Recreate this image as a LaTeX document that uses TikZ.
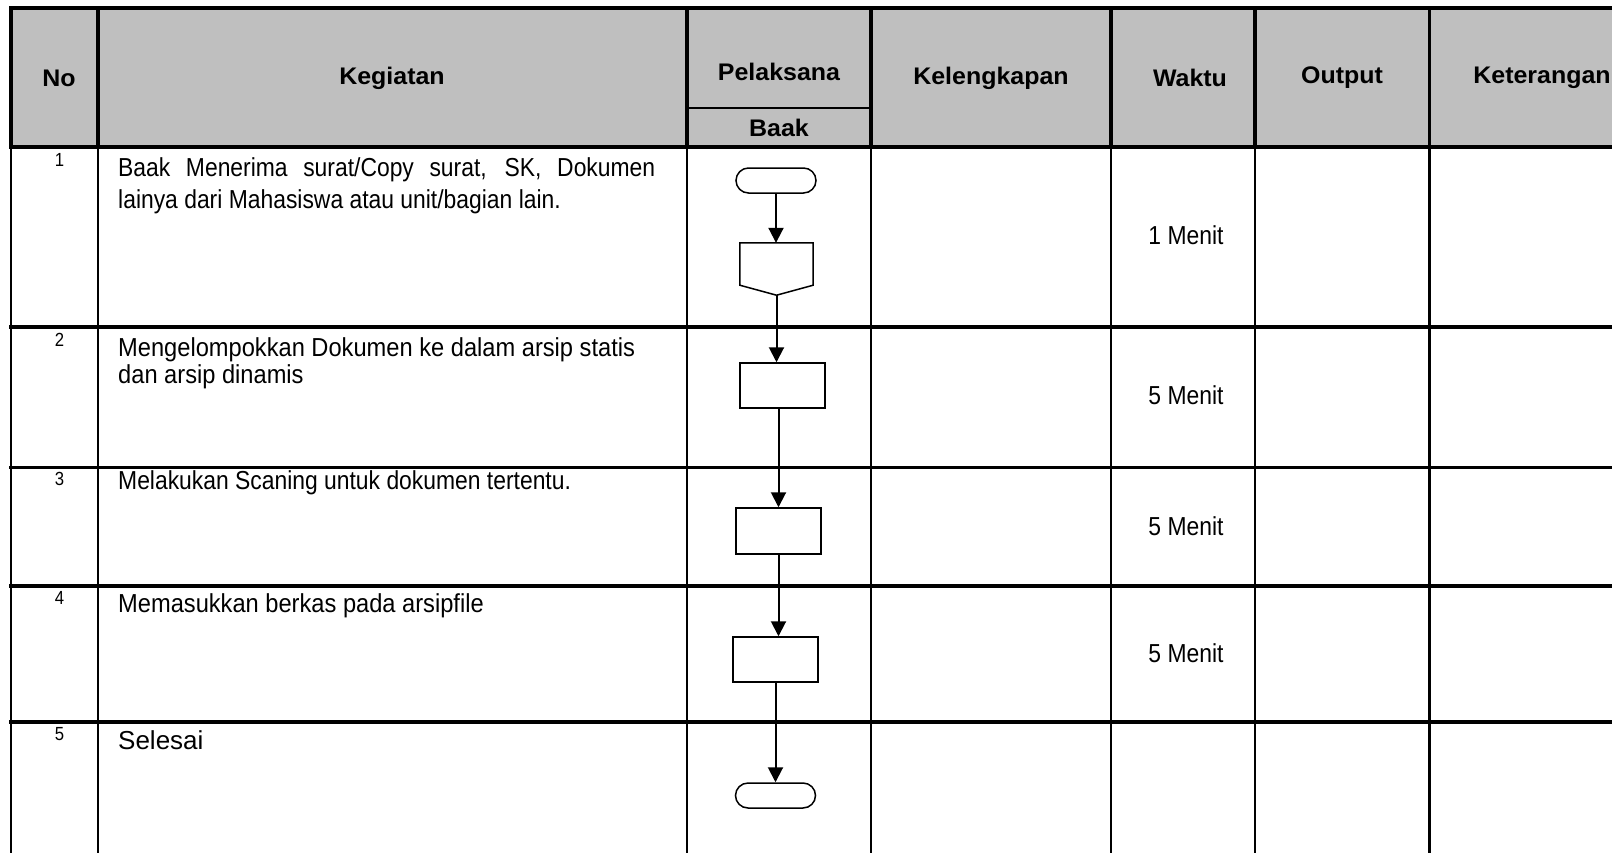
\documentclass[tikz,border=0pt]{standalone}
\usepackage{fontspec}
\setmainfont{Liberation Sans}
\newfontfamily\bodyf[FakeStretch=0.88]{Liberation Sans}
\newfontfamily\bodyw[FakeStretch=0.91]{Liberation Sans}
\newfontfamily\headf[FakeStretch=1.04]{Liberation Sans}
\usetikzlibrary{arrows.meta,shapes.misc}
\definecolor{headgray}{RGB}{191,191,191}
\tikzset{
  thickln/.style={line width=3.8pt},
  thinln/.style={line width=2.2pt},
  headtxt/.style={font=\headf\bfseries\fontsize{24}{28}\selectfont, inner sep=0pt},
  bodytxt/.style={font=\bodyf\fontsize{26}{32}\selectfont, inner sep=0pt, anchor=base west},
  bodywide/.style={bodytxt, font=\bodyw\fontsize{26}{32}\selectfont},
  numtxt/.style={font=\bodyf\fontsize{19}{22}\selectfont, inner sep=0pt, anchor=base},
  timetxt/.style={font=\bodyf\fontsize{26}{32}\selectfont, inner sep=0pt},
  term/.style={draw, rounded rectangle, minimum width=80pt, minimum height=25pt, line width=1.5pt, inner sep=0pt},
  procbox/.style={draw, rectangle, minimum width=85pt, minimum height=45pt, line width=1.5pt, inner sep=0pt},
  flowarrow/.style={line width=2pt, -{Triangle[width=15pt,length=15pt]}},
}
\begin{document}
\begin{tikzpicture}[x=1pt,y=-1pt]
\useasboundingbox (0,0) rectangle (1612,852);
\clip (0,0) rectangle (1612,852);
% header fill
\fill[headgray] (11,8) rectangle (1680,147);
% header lines
\draw[thickln] (9,8) -- (1680,8);
\draw[line width=4.5pt] (9,147) -- (1680,147);
\foreach \x in {11,97.7,687,871,1111,1255,1429.5}{
  \draw[thickln] (\x,8) -- (\x,147);
}
\draw[thinln] (687,108) -- (871,108);
% body vertical lines
\foreach \x in {11,97.7,687,871,1111,1255,1429.5}{
  \draw[thinln] (\x,147) -- (\x,860);
}
% row separators
\foreach \y in {327,467.5,586,722}{
  \draw[thickln] (9,\y) -- (1680,\y);
}
% header texts
\node[headtxt] (hno) at (59,78) {No};
\node[headtxt] (hkeg) at (392,78) {Kegiatan};
\node[headtxt] (hpel) at (779,72) {Pelaksana};
\node[headtxt] (hbaak) at (779,128) {Baak};
\node[headtxt] (hkel) at (991,78) {Kelengkapan};
\node[headtxt] (hwak) at (1190,78) {Waktu};
\node[headtxt] (hout) at (1342,78) {Output};
\node[headtxt] (hket) at (1542,78) {Keterangan};
% numbers
\node[numtxt] (n1) at (59.5,166) {1};
\node[numtxt] (n2) at (59.5,346) {2};
\node[numtxt] (n3) at (59.5,485) {3};
\node[numtxt] (n4) at (59.5,604) {4};
\node[numtxt] (n5) at (59.5,740) {5};
% activities
\node[bodytxt] (k1a) at (118,176) {\makebox[537pt][s]{Baak Menerima surat/Copy surat, SK, Dokumen}};
\node[bodytxt] (k1b) at (118,208) {lainya dari Mahasiswa atau unit/bagian lain.};
\node[bodywide] (k2a) at (118,356) {Mengelompokkan Dokumen ke dalam arsip statis};
\node[bodywide] (k2b) at (118,383) {dan arsip dinamis};
\node[bodytxt] (k3) at (118,489) {Melakukan Scaning untuk dokumen tertentu.};
\node[bodywide] (k4) at (118,612) {Memasukkan berkas pada arsipfile};
\node[bodytxt, font=\rmfamily\fontsize{26}{32}\selectfont] (k5) at (118,749) {Selesai};
% times
\node[timetxt] (w1) at (1186,235) {1 Menit};
\node[timetxt] (w2) at (1186,395) {5 Menit};
\node[timetxt] (w3) at (1186,526) {5 Menit};
\node[timetxt] (w4) at (1186,653) {5 Menit};
% flowchart
\node[term] (t1) at (776,180.5) {};
\node[minimum width=73pt, minimum height=52pt, inner sep=0pt] (mi) at (776.5,269) {};
\draw[line width=1.5pt] ([yshift=10pt]mi.south west) -- (mi.north west) -- (mi.north east) -- ([yshift=10pt]mi.south east) -- (mi.south) -- cycle;
\node[procbox] (r2) at (782.5,385.5) {};
\node[procbox, minimum height=46pt] (r3) at (778.5,531) {};
\node[procbox] (r4) at (775.5,659.5) {};
\node[term] (t2) at (775.5,795.5) {};
\draw[flowarrow] (t1.south) -- (t1.south |- mi.north);
\draw[flowarrow] (mi.south) -- (mi.south |- r2.north);
\draw[flowarrow] (r3.north |- r2.south) -- (r3.north);
\draw[flowarrow] (r3.south) -- (r3.south |- r4.north);
\draw[flowarrow] (r4.south) -- (t2.north);
\end{tikzpicture}
\end{document}
